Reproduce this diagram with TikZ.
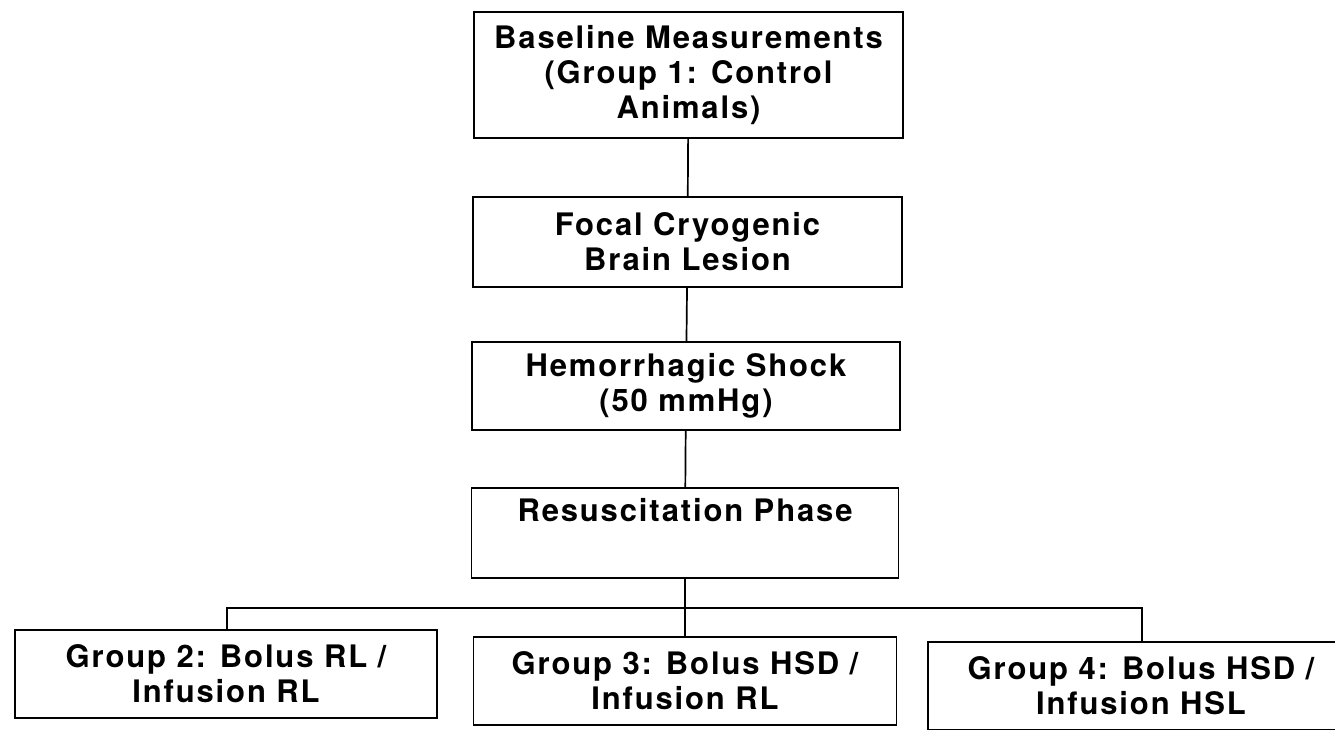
\documentclass[tikz,border=0pt]{standalone}
\usepackage{fontspec}
\setmainfont{TeX Gyre Heros}[LetterSpace=6]
\begin{document}
\begin{tikzpicture}[x=1pt,y=-1pt,
  box/.style={draw,line width=1.7pt,inner sep=0pt,align=center,
    font=\fontsize{31}{35}\selectfont\bfseries},
  link/.style={line width=1.7pt}]
\useasboundingbox (0,0) rectangle (1335,729);
\node[box,minimum width=429pt,minimum height=126pt] (b1) at (688.5,75)
  {Baseline Measurements\\(Group 1: Control\\Animals)};
\node[box,minimum width=429pt,minimum height=90pt] (b2) at (687.5,242)
  {Focal Cryogenic\\Brain Lesion};
\node[box,minimum width=428pt,minimum height=88pt] (b3) at (686,386)
  {Hemorrhagic Shock\\(50 mmHg)};
\node[box,minimum width=427pt,minimum height=90pt] (b4) at (685,533)
  {Resuscitation Phase\\\strut};
\node[box,minimum width=422pt,minimum height=88pt] (b5) at (226,674)
  {Group 2: Bolus RL /\\Infusion RL};
\node[box,minimum width=423pt,minimum height=88pt] (b6) at (685,681)
  {Group 3: Bolus HSD /\\Infusion RL};
\node[box,minimum width=426pt,minimum height=88pt] (b7) at (1141,686)
  {Group 4: Bolus HSD /\\Infusion HSL};
\coordinate (jl) at (227,608);
\coordinate (jr) at (1142,608);
\draw[link] (b1) -- (b2);
\draw[link] (b2) -- (b3);
\draw[link] (b3) -- (b4);
\draw[link] (b4) -- (b6);
\draw[link] (jl |- b5.north) -- (jl) -- (jr) -- (jr |- b7.north);
\end{tikzpicture}
\end{document}
